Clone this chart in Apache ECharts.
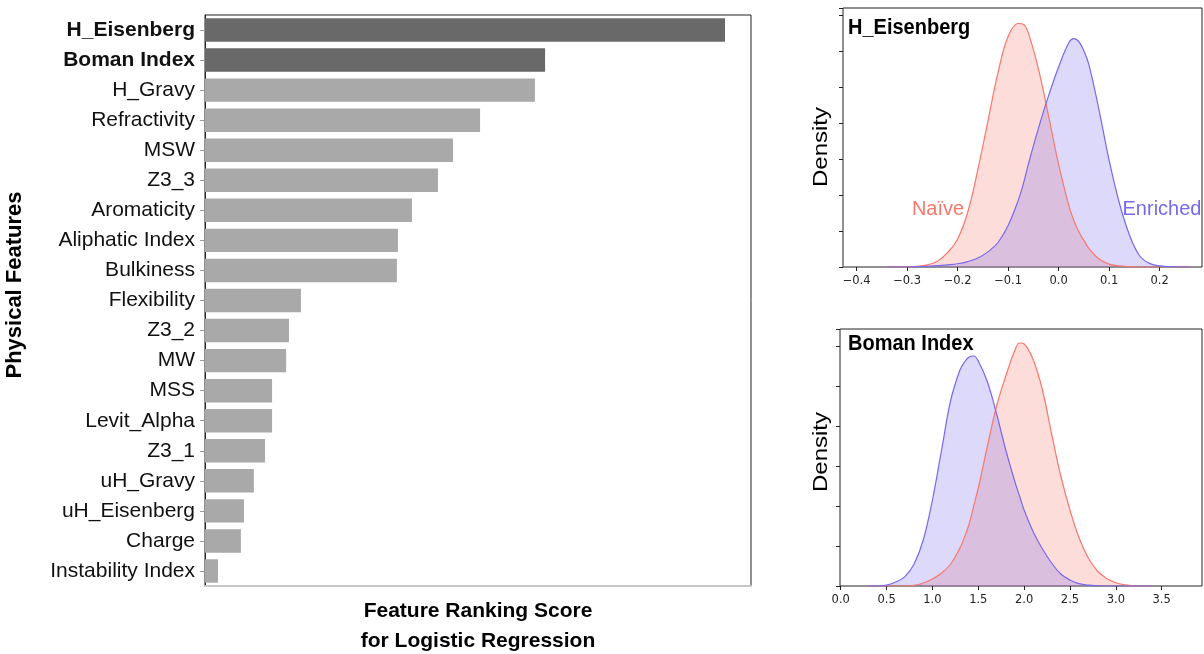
<!DOCTYPE html>
<html>
<head>
<meta charset="utf-8">
<script src="https://cdn.jsdelivr.net/npm/echarts@6/dist/echarts.min.js"></script>
<style>
  html, body { margin: 0; padding: 0; background: #fff; }
  #main { width: 1204px; height: 654px; }
</style>
</head>
<body>
<div id="main"></div>
<script>
// feature ranking (top to bottom)
var features = ['H_Eisenberg', 'Boman Index', 'H_Gravy', 'Refractivity', 'MSW', 'Z3_3',
  'Aromaticity', 'Aliphatic Index', 'Bulkiness', 'Flexibility', 'Z3_2', 'MW', 'MSS',
  'Levit_Alpha', 'Z3_1', 'uH_Gravy', 'uH_Eisenberg', 'Charge', 'Instability Index'];
var scores = [0.2000, 0.1308, 0.1269, 0.1058, 0.0954, 0.0896, 0.0796, 0.0742, 0.0738,
  0.0369, 0.0323, 0.0312, 0.0258, 0.0258, 0.0231, 0.0188, 0.0150, 0.0138, 0.0050];
var topFeatures = ['H_Eisenberg', 'Boman Index'];

// H_Eisenberg density
var eisenX = [-0.34, -0.32, -0.30, -0.28, -0.26, -0.24, -0.22, -0.20, -0.18, -0.16, -0.14,
  -0.12, -0.10, -0.08, -0.07, -0.06, -0.04, -0.02, 0.00, 0.02, 0.03, 0.04, 0.05, 0.06, 0.08,
  0.10, 0.12, 0.14, 0.16, 0.18, 0.20, 0.22, 0.24, 0.26];
var eisenNaive = [0.00, 0.00, 0.01, 0.02, 0.06, 0.16, 0.40, 0.78, 1.52, 2.70, 4.05,
  5.40, 6.40, 6.76, 6.74, 6.50, 5.50, 4.20, 2.85, 1.72, 1.30, 0.98, 0.74, 0.52, 0.22,
  0.08, 0.03, 0.01, 0.00, 0.00, 0.00, 0.00, 0.00, 0.00];
var eisenEnriched = [0.00, 0.00, 0.00, 0.01, 0.02, 0.04, 0.06, 0.09, 0.15, 0.25, 0.42,
  0.68, 1.15, 1.85, 2.30, 2.85, 3.85, 4.75, 5.55, 6.22, 6.34, 6.26, 6.00, 5.62, 4.36,
  2.97, 1.79, 0.90, 0.32, 0.10, 0.03, 0.01, 0.00, 0.00];

// Boman Index density
var bomanX = [0.3, 0.4, 0.5, 0.6, 0.7, 0.8, 0.9, 1.0, 1.1, 1.2, 1.3, 1.35, 1.4, 1.45, 1.5,
  1.6, 1.7, 1.8, 1.9, 1.95, 2.0, 2.1, 2.2, 2.3, 2.4, 2.5, 2.6, 2.7, 2.8, 2.9, 3.0, 3.1,
  3.2, 3.3, 3.4];
var bomanNaive = [0, 0, 0, 0, 0, 0.003, 0.015, 0.035, 0.065, 0.11, 0.19, 0.245, 0.31,
  0.40, 0.49, 0.70, 0.90, 1.05, 1.18, 1.215, 1.21, 1.13, 0.98, 0.76, 0.55, 0.38, 0.24,
  0.14, 0.075, 0.037, 0.016, 0.006, 0.001, 0, 0];
var bomanEnriched = [0, 0, 0.005, 0.02, 0.047, 0.11, 0.23, 0.43, 0.68, 0.93, 1.08, 1.12,
  1.145, 1.15, 1.125, 1.02, 0.86, 0.68, 0.52, 0.45, 0.38, 0.27, 0.185, 0.115, 0.06, 0.03,
  0.012, 0.004, 0.001, 0, 0, 0, 0, 0, 0];

var eisenTicks = [-0.4, -0.3, -0.2, -0.1, 0.0, 0.1, 0.2];
var bomanTicks = [0.0, 0.5, 1.0, 1.5, 2.0, 2.5, 3.0, 3.5];

var NAIVE = '#f9776b';
var ENRICH = '#7668ef';
var SANS = '"Liberation Sans", Arial, sans-serif';
var DJV = '"DejaVu Sans", sans-serif';

function pairs(xs, ys) {
  return xs.map(function (x, i) { return [x, ys[i]]; });
}

var myChart = echarts.init(document.getElementById('main'), null, { renderer: 'canvas' });

var densX = function (gi, min, max, ticks) {
  return {
    type: 'value', gridIndex: gi, min: min, max: max,
    axisLine: { show: false, onZero: false },
    axisTick: { show: true, inside: false, length: 4, customValues: ticks, lineStyle: { color: '#222' } },
    axisLabel: {
      customValues: ticks, margin: 8, color: '#222', fontFamily: DJV, fontSize: 11.5,
      formatter: function (v) { return v.toFixed(1).replace('-', '\u2212'); }
    },
    splitLine: { show: false }
  };
};
var densY = function (gi, max, step) {
  return {
    type: 'value', gridIndex: gi, min: 0, max: max, interval: step, position: 'left',
    axisLine: { show: false, onZero: false },
    axisTick: { show: true, inside: false, length: 4, lineStyle: { color: '#222' } },
    axisLabel: { show: false },
    splitLine: { show: false }
  };
};
var densLine = function (name, xi, color, data) {
  return {
    name: name, type: 'line', xAxisIndex: xi, yAxisIndex: xi,
    data: data, smooth: 0.4, symbol: 'none', silent: true,
    lineStyle: { color: color, width: 1.2 },
    areaStyle: { color: color, opacity: 0.25, origin: 'start' }
  };
};

option = {
  animation: false,
  backgroundColor: '#fff',
  grid: [
    { left: 205, top: 15, width: 546, height: 571, show: true, borderColor: '#222', borderWidth: 1 },
    { left: 843, top: 8, width: 359, height: 259, show: true, borderColor: '#222', borderWidth: 1 },
    { left: 840, top: 329, width: 362, height: 257, show: true, borderColor: '#222', borderWidth: 1 }
  ],
  xAxis: [
    // light bottom spine of the ranking panel, drawn over the dark frame
    { type: 'value', gridIndex: 0, min: 0, max: 0.21, position: 'bottom', z: 5,
      axisLine: { show: true, lineStyle: { color: '#c8c8c8', width: 2 } },
      axisTick: { show: false }, axisLabel: { show: false }, splitLine: { show: false } },
    densX(1, -0.427, 0.284, eisenTicks),
    densX(2, -0.008, 3.94, bomanTicks)
  ],
  yAxis: [
    { type: 'category', gridIndex: 0, data: features, inverse: true,
      axisLine: { show: true, lineStyle: { color: '#222' } },
      axisTick: { show: true, alignWithLabel: true, length: 5, lineStyle: { color: '#999' } },
      axisLabel: {
        margin: 10, color: '#111', fontFamily: SANS, fontSize: 21,
        formatter: function (v) {
          return topFeatures.indexOf(v) >= 0 ? '{b|' + v + '}' : v;
        },
        rich: { b: { fontWeight: 'bold', fontSize: 21, fontFamily: SANS, color: '#111' } }
      }
    },
    densY(1, 7.19, 1),
    densY(2, 1.285, 0.2)
  ],
  series: [
    {
      type: 'bar', xAxisIndex: 0, yAxisIndex: 0, barWidth: '78%', silent: true,
      data: scores.map(function (s, i) {
        return { value: s, itemStyle: { color: topFeatures.indexOf(features[i]) >= 0 ? '#696969' : '#a9a9a9' } };
      })
    },
    densLine('Naïve', 1, NAIVE, pairs(eisenX, eisenNaive)),
    densLine('Enriched', 1, ENRICH, pairs(eisenX, eisenEnriched)),
    densLine('Naïve', 2, NAIVE, pairs(bomanX, bomanNaive)),
    densLine('Enriched', 2, ENRICH, pairs(bomanX, bomanEnriched))
  ],
  graphic: [
    { type: 'text', x: 15, y: 285, rotation: Math.PI / 2,
      style: { text: 'Physical Features', font: 'bold 22px ' + SANS, fill: '#000', align: 'center', verticalAlign: 'middle' } },
    { type: 'text', x: 478, y: 611,
      style: { text: 'Feature Ranking Score', font: 'bold 21px ' + SANS, fill: '#000', align: 'center', verticalAlign: 'middle' } },
    { type: 'text', x: 478, y: 641,
      style: { text: 'for Logistic Regression', font: 'bold 21px ' + SANS, fill: '#000', align: 'center', verticalAlign: 'middle' } },
    { type: 'text', x: 821, y: 147, rotation: Math.PI / 2, scaleX: 1.2,
      style: { text: 'Density', font: '20px ' + SANS, fill: '#000', align: 'center', verticalAlign: 'middle' } },
    { type: 'text', x: 821, y: 452, rotation: Math.PI / 2, scaleX: 1.2,
      style: { text: 'Density', font: '20px ' + SANS, fill: '#000', align: 'center', verticalAlign: 'middle' } },
    { type: 'text', x: 848, y: 28, scaleY: 1.1,
      style: { text: 'H_Eisenberg', font: 'bold 20px ' + SANS, fill: '#000', align: 'left', verticalAlign: 'middle' } },
    { type: 'text', x: 848, y: 344, scaleY: 1.1,
      style: { text: 'Boman Index', font: 'bold 20px ' + SANS, fill: '#000', align: 'left', verticalAlign: 'middle' } },
    { type: 'text', x: 938, y: 209,
      style: { text: 'Naïve', font: '20px ' + SANS, fill: NAIVE, align: 'center', verticalAlign: 'middle' } },
    { type: 'text', x: 1162, y: 209,
      style: { text: 'Enriched', font: '20px ' + SANS, fill: ENRICH, align: 'center', verticalAlign: 'middle' } }
  ]
};

if (option && typeof option === 'object') {
  myChart.setOption(option, true);
}
</script>
</body>
</html>
